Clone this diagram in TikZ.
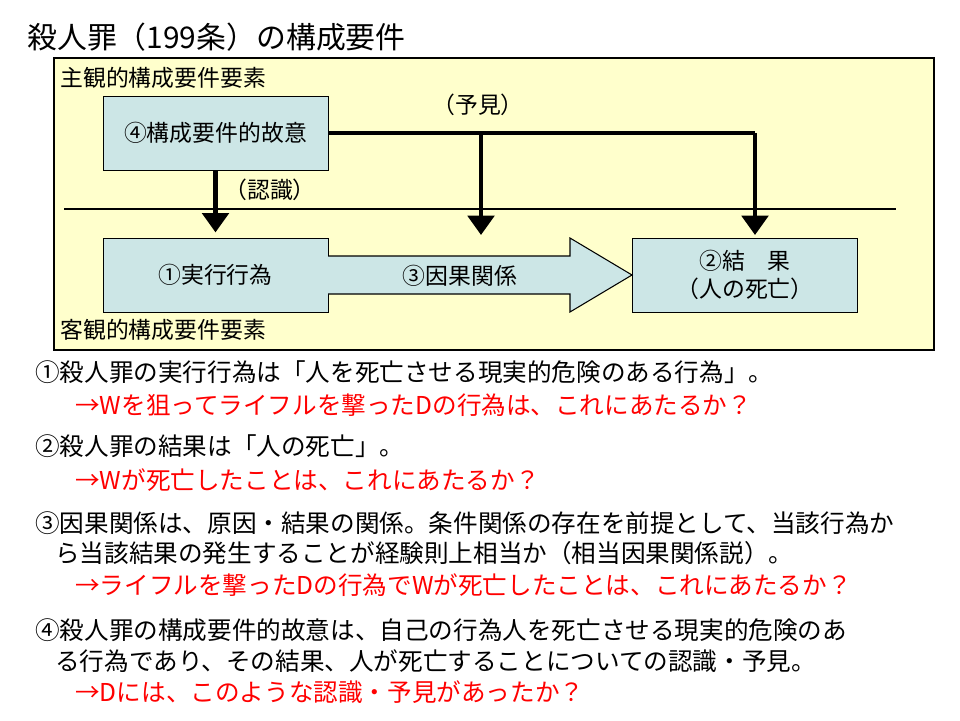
\documentclass[tikz,border=0pt]{standalone}
\usepackage{fontspec}
\setmainfont{Noto Sans CJK JP}
\usetikzlibrary{arrows.meta,positioning}
\definecolor{areayellow}{HTML}{FFFFCC}
\definecolor{boxblue}{HTML}{CCE6E6}
\definecolor{askred}{HTML}{FF0000}

\begin{document}
\begin{tikzpicture}[x=0.02cm,y=-0.02cm]
  \tikzset{elem/.style = {draw,fill=boxblue,minimum width=4.5cm,minimum height=1.48cm,font=\fontsize{13pt}{16pt}\selectfont,align=center}}
  \tikzset{tag/.style = {anchor=west,inner sep=0pt,font=\fontsize{13pt}{15pt}\selectfont}}
  \tikzset{line/.style = {anchor=west,inner sep=0pt,font=\fontsize{14pt}{16pt}\selectfont}}
  \tikzset{ask/.style = {line,text=askred}}
  \tikzset{edge/.style = {line width=2.4pt,-{Triangle[width=15pt,length=11pt]}}}
  \useasboundingbox (0,0) rectangle (960,720);

	\node[anchor=west,inner sep=0pt,font=\fontsize{17pt}{20pt}\selectfont] (title) at (27,37) {殺人罪（199条）の構成要件};
	\draw[fill=areayellow,line width=0.6pt] (54,58) rectangle (934,350);
	\node[tag] (subj) at (60,78) {主観的構成要件要素};
	\node[tag] (obj) at (60,330) {客観的構成要件要素};
	\draw[line width=0.6pt] (64,209) -- (896,209);

	\node[elem] (intent) at (215.5,133) {④構成要件的故意};
	\node[elem] (act) at (215.5,275) {①実行行為};
	\node[elem] (result) at (745,275) {②結\quad 果\\（人の死亡）};

	\draw[draw=black,fill=boxblue,line width=0.6pt] (328,256) -- (570,256) -- (570,238) -- (632,275)
	  -- (570,312) -- (570,294) -- (328,294);
	\node[font=\fontsize{13pt}{16pt}\selectfont] (cause) at (460,276) {③因果関係};

	\coordinate (mid) at (481,235);
	\coordinate (end) at (755,235);
	\draw[line width=2.4pt] (intent.east) -- (end |- intent.east);
	\draw[edge] (mid |- intent.east) -- (mid);
	\draw[edge] (end |- intent.east) -- (end);
	\draw[edge] (intent.south) -- ([yshift=3pt]act.north);
	\node[font=\fontsize{13pt}{16pt}\selectfont] (foresee) at (478,105) {（予見）};
	\node[font=\fontsize{13pt}{16pt}\selectfont] (aware) at (270,190) {（認識）};

	\node[line] (l1) at (35,372) {①殺人罪の実行行為は「人を死亡させる現実的危険のある行為」。};
	\node[ask] (q1) at (75,405) {→Wを狙ってライフルを撃ったDの行為は、これにあたるか？};
	\node[line] (l2) at (35,446) {②殺人罪の結果は「人の死亡」。};
	\node[ask] (q2) at (75,480) {→Wが死亡したことは、これにあたるか？};
	\node[line] (l3) at (35,523) {③因果関係は、原因・結果の関係。条件関係の存在を前提として、当該行為か};
	\node[line] (l3b) at (55,553) {ら当該結果の発生することが経験則上相当か（相当因果関係説）。};
	\node[ask] (q3) at (75,585) {→ライフルを撃ったDの行為でWが死亡したことは、これにあたるか？};
	\node[line] (l4) at (35,630) {④殺人罪の構成要件的故意は、自己の行為人を死亡させる現実的危険のあ};
	\node[line] (l4b) at (55,661) {る行為であり、その結果、人が死亡することについての認識・予見。};
	\node[ask] (q4) at (75,692) {→Dには、このような認識・予見があったか？};
\end{tikzpicture}
\end{document}
